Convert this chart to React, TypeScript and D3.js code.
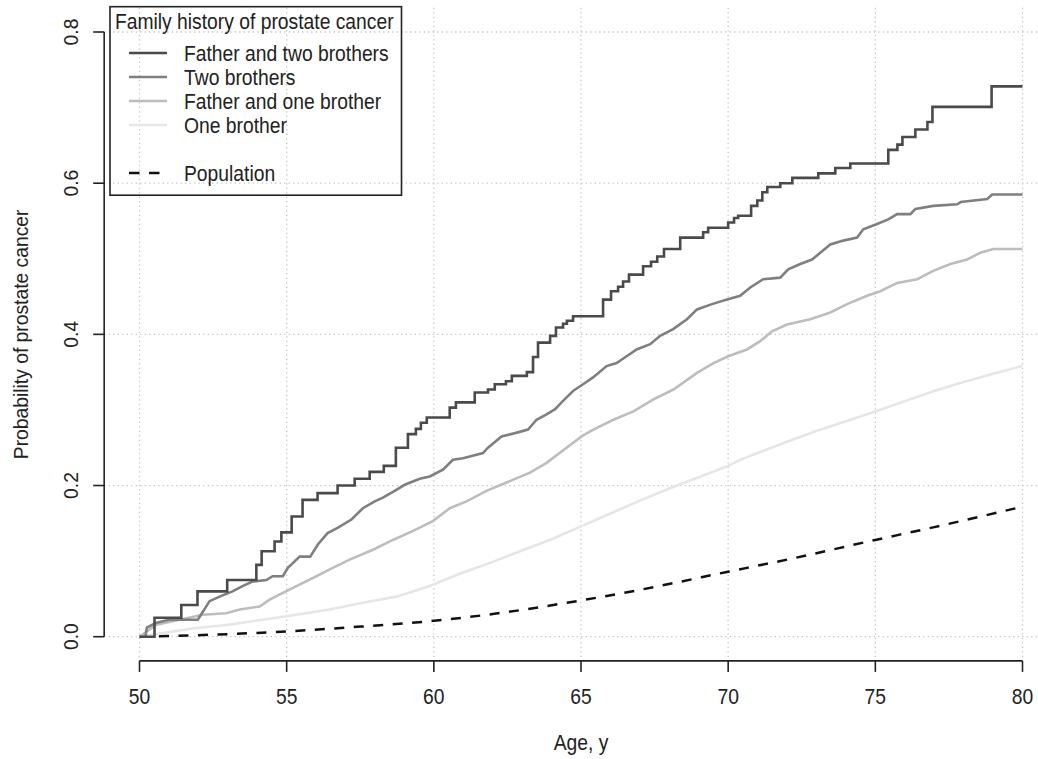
import React from "react";
import * as d3 from "d3";

type Pt = [number, number];

const xTicks = [50, 55, 60, 65, 70, 75, 80];
const yTicks = [0, 0.2, 0.4, 0.6, 0.8];
const yTickLabels = ["0.0", "0.2", "0.4", "0.6", "0.8"];

const legendTitle = "Family history of prostate cancer";
const seriesNames = ["Father and two brothers", "Two brothers", "Father and one brother", "One brother", "Population"];
const seriesColors = ["#4a4a4a", "#7f7f7f", "#bdbdbd", "#e6e6e6", "#111111"];

// Father and two brothers (Kaplan-Meier style step function)
const fatherTwoBrothers: Pt[] = [
  [50, 0], [50.51, 0.025], [51.42, 0.042], [51.97, 0.06], [52.98, 0.075], [53.97, 0.095],
  [54.15, 0.113], [54.59, 0.126], [54.82, 0.138], [55.17, 0.159], [55.54, 0.181], [56.05, 0.19],
  [56.73, 0.2], [57.31, 0.209], [57.82, 0.218], [58.3, 0.226], [58.71, 0.25], [59.12, 0.268],
  [59.39, 0.275], [59.56, 0.283], [59.76, 0.29], [60.54, 0.303], [60.75, 0.31], [61.39, 0.323],
  [61.84, 0.327], [62.07, 0.334], [62.45, 0.338], [62.65, 0.345], [63.16, 0.35], [63.37, 0.37],
  [63.54, 0.389], [63.95, 0.398], [64.15, 0.409], [64.39, 0.414], [64.52, 0.418], [64.73, 0.424],
  [65.75, 0.446], [66.02, 0.457], [66.26, 0.463], [66.43, 0.47], [66.63, 0.479], [67.11, 0.49],
  [67.38, 0.496], [67.59, 0.503], [67.82, 0.513], [68.37, 0.528], [69.15, 0.535], [69.32, 0.541],
  [70.0, 0.548], [70.2, 0.554], [70.34, 0.557], [70.78, 0.57], [70.99, 0.577], [71.16, 0.588],
  [71.33, 0.595], [71.77, 0.6], [72.18, 0.607], [73.06, 0.613], [73.64, 0.62], [74.15, 0.626],
  [75.44, 0.644], [75.75, 0.651], [75.92, 0.661], [76.36, 0.671], [76.77, 0.681], [76.94, 0.701],
  [78.95, 0.728], [80, 0.728],
];

const twoBrothers: Pt[] = [
  [50, 0], [50.2, 0], [50.25, 0.012], [50.55, 0.018], [51.0, 0.0225], [51.98, 0.0225], [52.38, 0.047],
  [52.72, 0.053], [53.16, 0.06], [53.5, 0.067], [53.84, 0.073], [54.31, 0.075], [54.52, 0.08],
  [54.87, 0.08], [55.04, 0.091], [55.2, 0.097], [55.44, 0.106], [55.8, 0.106], [56.06, 0.122],
  [56.39, 0.137], [56.73, 0.144], [57.2, 0.155], [57.59, 0.17], [57.99, 0.179], [58.27, 0.184],
  [58.67, 0.193], [59.01, 0.201], [59.52, 0.209], [59.86, 0.212], [60.31, 0.221], [60.65, 0.234],
  [60.99, 0.236], [61.67, 0.243], [61.84, 0.25], [62.3, 0.265], [62.82, 0.27], [63.2, 0.274],
  [63.49, 0.287], [63.83, 0.294], [64.12, 0.301], [64.39, 0.312], [64.73, 0.325], [65.07, 0.334],
  [65.41, 0.343], [65.87, 0.358], [66.21, 0.362], [66.55, 0.371], [66.89, 0.38], [67.35, 0.387],
  [67.69, 0.398], [68.13, 0.407], [68.6, 0.42], [68.94, 0.433], [69.45, 0.44], [69.96, 0.446],
  [70.41, 0.451], [70.75, 0.462], [71.19, 0.473], [71.77, 0.475], [72.04, 0.486], [72.45, 0.493],
  [72.85, 0.499], [73.13, 0.508], [73.47, 0.519], [73.91, 0.524], [74.38, 0.528], [74.59, 0.539],
  [75.06, 0.546], [75.44, 0.552], [75.74, 0.559], [76.19, 0.559], [76.36, 0.566], [76.97, 0.57],
  [77.78, 0.572], [77.9, 0.575], [78.8, 0.579], [78.97, 0.585], [80, 0.585],
];

const fatherOneBrother: Pt[] = [
  [50, 0], [50.57, 0.016], [51.36, 0.0225], [52.14, 0.029], [52.95, 0.031], [53.4, 0.036],
  [54.08, 0.04], [54.42, 0.049], [54.87, 0.058], [55.33, 0.067], [56.01, 0.08], [56.46, 0.089],
  [57.14, 0.102], [57.93, 0.115], [58.61, 0.128], [59.24, 0.139], [59.97, 0.153], [60.54, 0.17],
  [61.11, 0.179], [61.79, 0.193], [62.47, 0.204], [63.27, 0.217], [63.83, 0.23], [64.51, 0.25],
  [65.02, 0.265], [65.42, 0.274], [66.1, 0.287], [66.78, 0.298], [67.46, 0.314], [68.14, 0.327],
  [68.94, 0.349], [69.5, 0.362], [70.0, 0.371], [70.64, 0.38], [71.09, 0.391], [71.49, 0.404],
  [72.0, 0.413], [72.79, 0.42], [73.47, 0.429], [74.04, 0.44], [74.72, 0.451], [75.17, 0.457],
  [75.74, 0.468], [76.42, 0.473], [76.97, 0.484], [77.55, 0.493], [78.12, 0.499], [78.57, 0.508],
  [79.01, 0.513], [80, 0.513],
];

const oneBrother: Pt[] = [
  [50, 0], [50.78, 0.005], [51.93, 0.0115], [53.06, 0.016], [54.18, 0.0225], [55.33, 0.029],
  [56.46, 0.036], [57.59, 0.045], [58.73, 0.053], [59.86, 0.067], [60.54, 0.078], [61, 0.085],
  [62, 0.099], [63, 0.114], [64, 0.129], [65, 0.146], [66, 0.163], [67, 0.18], [68, 0.196],
  [69, 0.211], [70, 0.226], [70.41, 0.234], [71, 0.243], [72, 0.258], [73, 0.272], [74, 0.285],
  [75, 0.298], [76.1, 0.313], [77, 0.325], [78, 0.337], [79, 0.348], [80, 0.358],
];

const population: Pt[] = [
  [50, 0], [52, 0.002], [55, 0.007], [57, 0.012], [60, 0.021], [62, 0.03], [65, 0.048],
  [67, 0.062], [70, 0.086], [72, 0.102], [75, 0.128], [77, 0.145], [80, 0.172],
];

const W = 1038;
const H = 759;
const FONT = "'Liberation Sans', Arial, Helvetica, sans-serif";
const FS = 19.3;
const TEXT = "#222";
const SY = 1.1; // vertical stretch of horizontal text

function HText(props: { x: number; y: number; anchor?: string; children: React.ReactNode }) {
  return (
    <text transform={`translate(${props.x},${props.y}) scale(1,${SY})`} textAnchor={props.anchor || "start"}
      fontSize={FS} fill={TEXT}>
      {props.children}
    </text>
  );
}

export default function App() {
  const x = d3.scaleLinear().domain([50, 80]).range([139.5, 1022.5]);
  const y = d3.scaleLinear().domain([0, 0.8]).range([636.7, 32]);
  const xl = x(48.8), xr = x(81.2);
  const yb = y(-0.032), yt = y(0.832);

  const step = d3.line<Pt>().x(d => x(d[0])).y(d => y(d[1])).curve(d3.curveStepAfter);
  const lin = d3.line<Pt>().x(d => x(d[0])).y(d => y(d[1]));
  const smooth = d3.line<Pt>().x(d => x(d[0])).y(d => y(d[1])).curve(d3.curveMonotoneX);

  const gridStyle = { stroke: "#c4c4c4", strokeWidth: 1.3, strokeDasharray: "1.3,3.2" };

  const legendRows = [53, 77, 101, 125, 173];

  return (
    <svg width={W} height={H} style={{ position: "absolute", left: 0, top: 0, background: "#fff" }}
      fontFamily={FONT}>
      <rect x={0} y={0} width={W} height={H} fill="#fff" />
      {/* grid */}
      {xTicks.map(t => (
        <line key={"gx" + t} x1={x(t)} x2={x(t)} y1={yt} y2={yb} {...gridStyle} />
      ))}
      {yTicks.map(t => (
        <line key={"gy" + t} x1={xl} x2={xr} y1={y(t)} y2={y(t)} {...gridStyle} />
      ))}
      {/* series */}
      <path d={smooth(population) || ""} fill="none" stroke={seriesColors[4]} strokeWidth={2.5} strokeDasharray="10,9.5" />
      <path d={lin(oneBrother) || ""} fill="none" stroke={seriesColors[3]} strokeWidth={2.6} />
      <path d={lin(fatherOneBrother) || ""} fill="none" stroke={seriesColors[2]} strokeWidth={2.6} />
      <path d={lin(twoBrothers) || ""} fill="none" stroke={seriesColors[1]} strokeWidth={2.6} />
      <path d={step(fatherTwoBrothers) || ""} fill="none" stroke={seriesColors[0]} strokeWidth={2.6} />

      {/* y axis */}
      <line x1={xl} x2={xl} y1={y(0)} y2={y(0.8)} stroke="#222" strokeWidth={1.6} />
      {yTicks.map((t, i) => (
        <g key={"yt" + t}>
          <line x1={xl - 11} x2={xl} y1={y(t)} y2={y(t)} stroke="#222" strokeWidth={1.6} />
          <text transform={`translate(${77.5},${y(t)}) rotate(-90) scale(1,1.05)`} textAnchor="middle" fontSize={FS} fill={TEXT}>
            {yTickLabels[i]}
          </text>
        </g>
      ))}
      <text transform={`translate(28,${(y(0) + y(0.8)) / 2}) rotate(-90) scale(1,1.05)`} textAnchor="middle" fontSize={FS} fill={TEXT}>
        Probability of prostate cancer
      </text>

      {/* x axis */}
      <line x1={x(50)} x2={x(80)} y1={yb} y2={yb} stroke="#222" strokeWidth={1.6} />
      {xTicks.map(t => (
        <g key={"xt" + t}>
          <line x1={x(t)} x2={x(t)} y1={yb} y2={yb + 11} stroke="#222" strokeWidth={1.6} />
          <HText x={x(t)} y={704} anchor="middle">{t}</HText>
        </g>
      ))}
      <HText x={(x(50) + x(80)) / 2} y={750} anchor="middle">Age, y</HText>

      {/* legend */}
      <rect x={110} y={6.7} width={291.5} height={188.5} fill="none" stroke="#222" strokeWidth={1.6} />
      <HText x={115} y={28.5}>{legendTitle}</HText>
      {seriesNames.map((n, i) => (
        <g key={n}>
          <line x1={129} x2={167} y1={legendRows[i]} y2={legendRows[i]} stroke={seriesColors[i]}
            strokeWidth={2.6} strokeDasharray={i === 4 ? "10.5,9.5" : undefined} />
          <HText x={184} y={legendRows[i] + 7.5}>{n}</HText>
        </g>
      ))}
    </svg>
  );
}
